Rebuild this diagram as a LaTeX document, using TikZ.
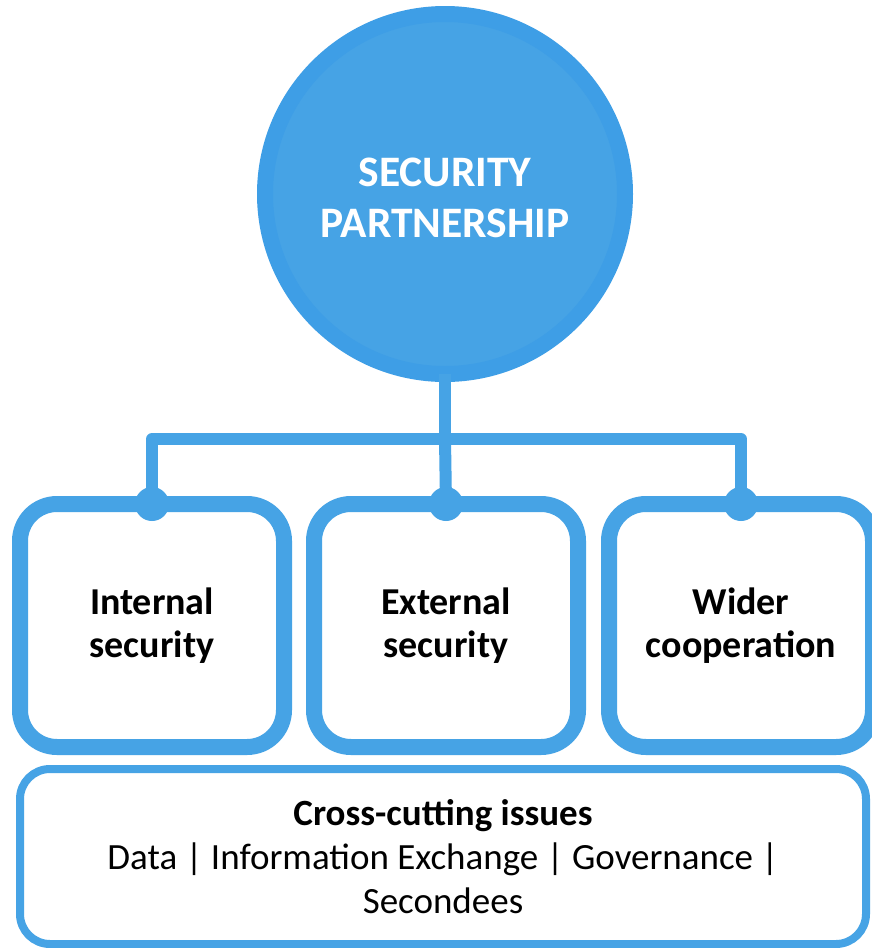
\documentclass[tikz,border=0pt]{standalone}
\usepackage{fontspec}
\setmainfont{Carlito}
\definecolor{blu}{RGB}{70,163,229}
\definecolor{ringblu}{RGB}{62,158,230}
\begin{document}
\begin{tikzpicture}[x=1pt,y=-1pt,
  hub/.style={circle, fill=blu, draw=ringblu, line width=16pt, minimum size=360pt, inner sep=0pt, outer sep=0pt},
  hubtext/.style={text=white, font=\bfseries\fontsize{43.5}{51}\selectfont, align=center, inner sep=0pt},
  pillar/.style={draw=blu, fill=white, line width=16pt, rounded corners=37pt, minimum width=264pt, minimum height=243pt, inner sep=0pt, outer sep=0pt, font=\bfseries\fontsize{38}{43}\selectfont, align=center},
  basebox/.style={draw=blu, fill=white, line width=8pt, rounded corners=30pt, minimum width=846pt, minimum height=175pt, inner sep=0pt, outer sep=0pt, font=\fontsize{37}{44}\selectfont, align=center},
  conn/.style={draw=blu, line width=12pt, line join=round},
  joint/.style={fill=blu}]
\useasboundingbox (0,0) rectangle (872,948);
\fill[white] (0,0) rectangle (872,948);
\node[hub] (sp) at (445,194) {};
\node[hubtext] (sptext) at ([yshift=-4pt]sp.center) {SECURITY\\PARTNERSHIP};
\coordinate (j) at (445,439);
\node[pillar] (int) at (152,625.5) {Internal\\security};
\node[pillar] (ext) at (446,625.5) {External\\security};
\node[pillar] (wid) at (741,625.5) {Wider\\cooperation};
\node[basebox] (cc) at (443,856.5) {\textbf{Cross-cutting issues}\\Data | Information Exchange | Governance |\\Secondees};
\draw[conn] (sp.south) -- (j);
\draw[conn] (int.north) |- (j) -| (wid.north);
\draw[conn] (j) -- (ext.north);
\fill[joint] (int.north) circle[radius=17pt];
\fill[joint] (ext.north) circle[radius=17pt];
\fill[joint] (wid.north) circle[radius=17pt];
\end{tikzpicture}
\end{document}
